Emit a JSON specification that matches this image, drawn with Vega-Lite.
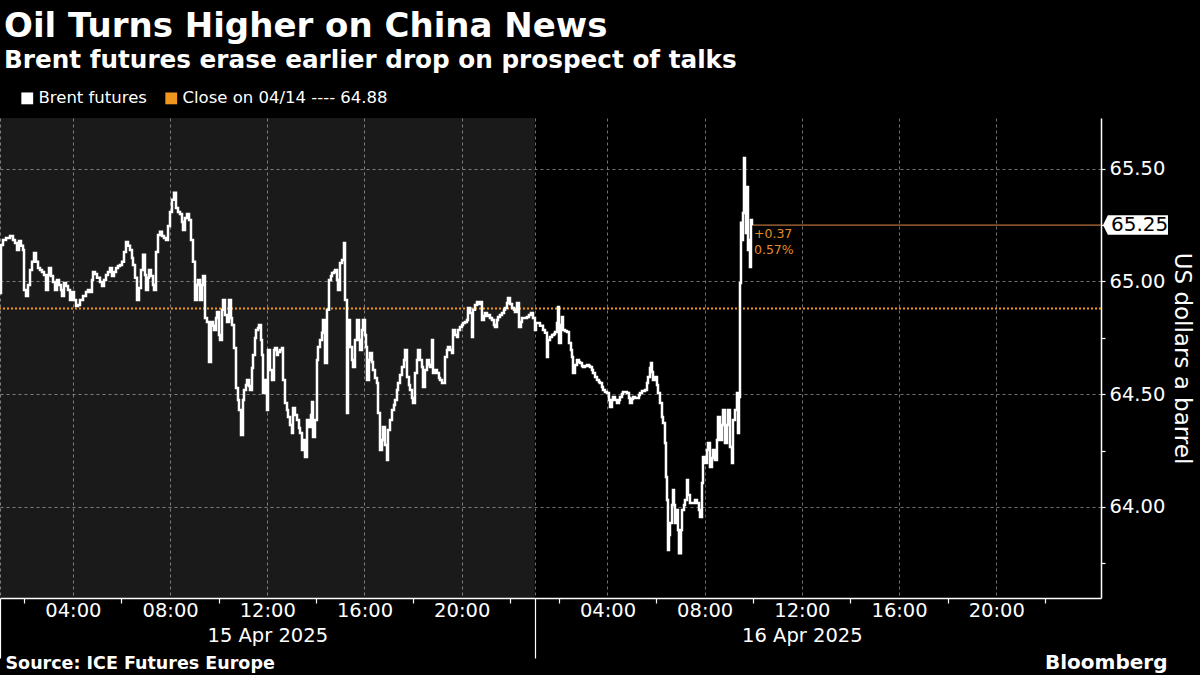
{
  "$schema": "https://vega.github.io/schema/vega-lite/v6.json",
  "width": 1101,
  "height": 480,
  "autosize": "none",
  "padding": {"left": 0, "top": 118, "right": 99, "bottom": 77},
  "background": "#000000",
  "title": {
    "text": "Oil Turns Higher on China News",
    "subtitle": "Brent futures erase earlier drop on prospect of talks",
    "anchor": "start",
    "frame": "group",
    "dx": 4,
    "offset": 17,
    "color": "#ffffff",
    "font": "DejaVu Sans",
    "fontSize": 34,
    "fontWeight": "bold",
    "subtitleColor": "#ffffff",
    "subtitleFont": "DejaVu Sans",
    "subtitleFontSize": 24.7,
    "subtitleFontWeight": "bold",
    "subtitlePadding": 4
  },
  "datasets": {
    "brent": [
      {"t":0,"p":64.949},{"t":0.041,"p":65.162},{"t":0.123,"p":65.184},{"t":0.247,"p":65.193},{"t":0.412,"p":65.202},{"t":0.535,"p":65.184},{"t":0.617,"p":65.171},{"t":0.7,"p":65.14},{"t":0.782,"p":65.18},{"t":0.864,"p":65.158},{"t":0.947,"p":65.14},{"t":0.988,"p":64.962},{"t":1.07,"p":64.936},{"t":1.152,"p":64.984},{"t":1.235,"p":65.051},{"t":1.317,"p":65.087},{"t":1.399,"p":65.126},{"t":1.481,"p":65.087},{"t":1.564,"p":65.06},{"t":1.646,"p":65.051},{"t":1.728,"p":65.042},{"t":1.811,"p":65.029},{"t":1.893,"p":64.962},{"t":1.975,"p":65.029},{"t":2.016,"p":65.06},{"t":2.099,"p":65.024},{"t":2.181,"p":64.998},{"t":2.263,"p":64.962},{"t":2.346,"p":65.007},{"t":2.428,"p":64.984},{"t":2.51,"p":64.962},{"t":2.551,"p":64.936},{"t":2.634,"p":64.993},{"t":2.716,"p":64.98},{"t":2.798,"p":64.962},{"t":2.881,"p":64.918},{"t":2.963,"p":64.953},{"t":3.045,"p":64.918},{"t":3.128,"p":64.891},{"t":3.21,"p":64.896},{"t":3.292,"p":64.918},{"t":3.416,"p":64.936},{"t":3.539,"p":64.953},{"t":3.621,"p":64.962},{"t":3.704,"p":64.953},{"t":3.786,"p":65.007},{"t":3.827,"p":65.042},{"t":3.909,"p":65.033},{"t":3.992,"p":65.016},{"t":4.115,"p":64.998},{"t":4.198,"p":64.98},{"t":4.28,"p":65.007},{"t":4.362,"p":65.029},{"t":4.444,"p":65.042},{"t":4.527,"p":65.06},{"t":4.609,"p":65.024},{"t":4.691,"p":65.042},{"t":4.774,"p":65.06},{"t":4.856,"p":65.069},{"t":4.938,"p":65.073},{"t":5.021,"p":65.087},{"t":5.103,"p":65.131},{"t":5.185,"p":65.175},{"t":5.267,"p":65.158},{"t":5.35,"p":65.14},{"t":5.432,"p":65.104},{"t":5.473,"p":65.073},{"t":5.556,"p":65.016},{"t":5.638,"p":64.918},{"t":5.72,"p":64.971},{"t":5.802,"p":65.051},{"t":5.885,"p":65.118},{"t":5.967,"p":65.029},{"t":6.008,"p":64.962},{"t":6.091,"p":65.016},{"t":6.132,"p":65.051},{"t":6.214,"p":65.024},{"t":6.296,"p":64.984},{"t":6.337,"p":64.962},{"t":6.42,"p":65.131},{"t":6.502,"p":65.206},{"t":6.584,"p":65.22},{"t":6.667,"p":65.202},{"t":6.749,"p":65.193},{"t":6.831,"p":65.184},{"t":6.914,"p":65.246},{"t":6.996,"p":65.308},{"t":7.078,"p":65.362},{"t":7.16,"p":65.393},{"t":7.243,"p":65.326},{"t":7.325,"p":65.308},{"t":7.407,"p":65.299},{"t":7.49,"p":65.264},{"t":7.531,"p":65.228},{"t":7.613,"p":65.282},{"t":7.695,"p":65.299},{"t":7.778,"p":65.273},{"t":7.86,"p":65.184},{"t":7.942,"p":65.087},{"t":8.025,"p":64.918},{"t":8.107,"p":64.984},{"t":8.148,"p":65.007},{"t":8.23,"p":64.918},{"t":8.313,"p":64.984},{"t":8.354,"p":65.024},{"t":8.436,"p":64.838},{"t":8.519,"p":64.82},{"t":8.601,"p":64.643},{"t":8.683,"p":64.82},{"t":8.765,"p":64.803},{"t":8.807,"p":64.785},{"t":8.889,"p":64.838},{"t":8.93,"p":64.865},{"t":9.012,"p":64.763},{"t":9.053,"p":64.74},{"t":9.136,"p":64.874},{"t":9.177,"p":64.918},{"t":9.259,"p":64.851},{"t":9.342,"p":64.82},{"t":9.424,"p":64.918},{"t":9.506,"p":64.838},{"t":9.547,"p":64.807},{"t":9.63,"p":64.705},{"t":9.712,"p":64.527},{"t":9.794,"p":64.474},{"t":9.835,"p":64.43},{"t":9.918,"p":64.319},{"t":10.0,"p":64.474},{"t":10.041,"p":64.519},{"t":10.123,"p":64.541},{"t":10.165,"p":64.563},{"t":10.247,"p":64.536},{"t":10.288,"p":64.519},{"t":10.37,"p":64.616},{"t":10.412,"p":64.674},{"t":10.494,"p":64.749},{"t":10.535,"p":64.785},{"t":10.617,"p":64.794},{"t":10.658,"p":64.807},{"t":10.741,"p":64.74},{"t":10.782,"p":64.674},
      {"t":10.823,"p":64.505},{"t":10.905,"p":64.563},{"t":10.988,"p":64.43},{"t":11.029,"p":64.696},{"t":11.111,"p":64.607},{"t":11.193,"p":64.563},{"t":11.276,"p":64.696},{"t":11.317,"p":64.705},{"t":11.399,"p":64.674},{"t":11.44,"p":64.687},{"t":11.523,"p":64.696},{"t":11.605,"p":64.705},{"t":11.646,"p":64.563},{"t":11.728,"p":64.461},{"t":11.811,"p":64.43},{"t":11.852,"p":64.399},{"t":11.934,"p":64.363},{"t":12.016,"p":64.328},{"t":12.058,"p":64.439},{"t":12.14,"p":64.408},{"t":12.222,"p":64.386},{"t":12.305,"p":64.35},{"t":12.346,"p":64.328},{"t":12.428,"p":64.252},{"t":12.51,"p":64.297},{"t":12.551,"p":64.221},{"t":12.634,"p":64.386},{"t":12.716,"p":64.354},{"t":12.798,"p":64.408},{"t":12.84,"p":64.465},{"t":12.881,"p":64.31},{"t":12.963,"p":64.386},{"t":13.045,"p":64.652},{"t":13.086,"p":64.709},{"t":13.169,"p":64.74},{"t":13.251,"p":64.772},{"t":13.292,"p":64.829},{"t":13.374,"p":64.638},{"t":13.457,"p":64.874},{"t":13.539,"p":65.007},{"t":13.621,"p":65.024},{"t":13.663,"p":65.038},{"t":13.745,"p":65.042},{"t":13.786,"p":65.051},{"t":13.868,"p":65.007},{"t":13.909,"p":64.962},{"t":13.992,"p":65.082},{"t":14.074,"p":65.095},{"t":14.156,"p":65.171},{"t":14.198,"p":64.918},{"t":14.28,"p":64.417},{"t":14.321,"p":64.829},{"t":14.403,"p":64.709},{"t":14.486,"p":64.652},{"t":14.527,"p":64.621},{"t":14.609,"p":64.74},{"t":14.691,"p":64.829},{"t":14.774,"p":64.74},{"t":14.815,"p":64.696},{"t":14.897,"p":64.785},{"t":14.938,"p":64.829},{"t":15.021,"p":64.763},{"t":15.062,"p":64.709},{"t":15.103,"p":64.563},{"t":15.185,"p":64.652},{"t":15.226,"p":64.683},{"t":15.309,"p":64.643},{"t":15.35,"p":64.607},{"t":15.432,"p":64.572},{"t":15.514,"p":64.55},{"t":15.556,"p":64.417},{"t":15.638,"p":64.252},{"t":15.72,"p":64.297},{"t":15.761,"p":64.354},{"t":15.844,"p":64.275},{"t":15.926,"p":64.208},{"t":15.967,"p":64.341},{"t":16.049,"p":64.386},{"t":16.132,"p":64.43},{"t":16.214,"p":64.452},{"t":16.255,"p":64.474},{"t":16.337,"p":64.519},{"t":16.379,"p":64.55},{"t":16.461,"p":64.585},{"t":16.543,"p":64.621},{"t":16.626,"p":64.652},{"t":16.667,"p":64.696},{"t":16.749,"p":64.576},{"t":16.831,"p":64.541},{"t":16.872,"p":64.519},{"t":16.955,"p":64.483},{"t":16.996,"p":64.461},{"t":17.078,"p":64.594},{"t":17.16,"p":64.652},{"t":17.202,"p":64.696},{"t":17.284,"p":64.652},{"t":17.366,"p":64.621},{"t":17.407,"p":64.532},{"t":17.49,"p":64.607},{"t":17.572,"p":64.652},{"t":17.654,"p":64.63},{"t":17.695,"p":64.621},{"t":17.778,"p":64.74},{"t":17.819,"p":64.594},{"t":17.901,"p":64.607},{"t":17.984,"p":64.594},{"t":18.066,"p":64.572},{"t":18.107,"p":64.563},{"t":18.189,"p":64.55},{"t":18.23,"p":64.55},{"t":18.313,"p":64.665},{"t":18.395,"p":64.696},{"t":18.436,"p":64.709},{"t":18.519,"p":64.696},{"t":18.601,"p":64.683},{"t":18.642,"p":64.785},{"t":18.724,"p":64.763},{"t":18.807,"p":64.754},{"t":18.848,"p":64.785},{"t":18.93,"p":64.798},{"t":19.012,"p":64.807},{"t":19.053,"p":64.816},{"t":19.136,"p":64.82},{"t":19.218,"p":64.829},{"t":19.259,"p":64.882},{"t":19.342,"p":64.86},{"t":19.424,"p":64.754},{"t":19.465,"p":64.874},{"t":19.547,"p":64.896},{"t":19.63,"p":64.909},{"t":19.712,"p":64.9},{"t":19.753,"p":64.909},{"t":19.835,"p":64.829},{"t":19.918,"p":64.847},{"t":19.959,"p":64.86},{"t":20.041,"p":64.847},{"t":20.082,"p":64.851},{"t":20.165,"p":64.838},{"t":20.247,"p":64.829},{"t":20.329,"p":64.807},{"t":20.37,"p":64.798},{"t":20.453,"p":64.829},{"t":20.494,"p":64.842},{"t":20.576,"p":64.851},{"t":20.658,"p":64.86},{"t":20.741,"p":64.874},{"t":20.782,"p":64.882},{"t":20.864,"p":64.905},{"t":20.905,"p":64.927},{"t":20.988,"p":64.9},{"t":21.07,"p":64.882},{"t":21.152,"p":64.874},{"t":21.193,"p":64.865},{"t":21.276,"p":64.905},{"t":21.358,"p":64.798},{"t":21.44,"p":64.82},{"t":21.481,"p":64.838},{"t":21.605,"p":64.838},{"t":21.687,"p":64.842},{"t":21.77,"p":64.851},{"t":21.852,"p":64.86},{"t":21.934,"p":64.838},{"t":22.016,"p":64.785},
      {"t":22.058,"p":64.816},{"t":22.14,"p":64.816},{"t":22.222,"p":64.803},{"t":22.346,"p":64.785},{"t":22.428,"p":64.772},{"t":22.51,"p":64.665},{"t":22.551,"p":64.74},{"t":22.634,"p":64.754},{"t":22.716,"p":64.763},{"t":22.798,"p":64.767},{"t":22.84,"p":64.776},{"t":22.922,"p":64.816},{"t":22.963,"p":64.887},{"t":23.004,"p":64.727},{"t":23.086,"p":64.807},{"t":23.128,"p":64.842},{"t":23.169,"p":64.785},{"t":23.251,"p":64.78},{"t":23.333,"p":64.776},{"t":23.416,"p":64.727},{"t":23.498,"p":64.696},{"t":23.539,"p":64.665},{"t":23.58,"p":64.594},{"t":23.663,"p":64.63},{"t":23.745,"p":64.652},{"t":23.827,"p":64.643},{"t":23.868,"p":64.638},{"t":23.951,"p":64.625},{"t":23.992,"p":64.621},{"t":24.074,"p":64.625},{"t":24.156,"p":64.63},{"t":24.239,"p":64.625},{"t":24.28,"p":64.621},{"t":24.362,"p":64.607},{"t":24.403,"p":64.594},{"t":24.486,"p":64.576},{"t":24.568,"p":64.563},{"t":24.65,"p":64.554},{"t":24.691,"p":64.55},{"t":24.774,"p":64.532},{"t":24.815,"p":64.519},{"t":24.897,"p":64.51},{"t":24.979,"p":64.505},{"t":25.062,"p":64.474},{"t":25.103,"p":64.443},{"t":25.185,"p":64.474},{"t":25.226,"p":64.488},{"t":25.309,"p":64.474},{"t":25.391,"p":64.461},{"t":25.473,"p":64.474},{"t":25.514,"p":64.488},{"t":25.597,"p":64.501},{"t":25.638,"p":64.51},{"t":25.72,"p":64.51},{"t":25.802,"p":64.505},{"t":25.885,"p":64.483},{"t":25.926,"p":64.461},{"t":26.008,"p":64.479},{"t":26.049,"p":64.488},{"t":26.132,"p":64.483},{"t":26.214,"p":64.483},{"t":26.296,"p":64.496},{"t":26.337,"p":64.505},{"t":26.42,"p":64.514},{"t":26.543,"p":64.519},{"t":26.626,"p":64.55},{"t":26.667,"p":64.576},{"t":26.749,"p":64.616},{"t":26.79,"p":64.638},{"t":26.831,"p":64.598},{"t":26.872,"p":64.563},{"t":26.955,"p":64.576},{"t":27.037,"p":64.541},{"t":27.078,"p":64.505},{"t":27.16,"p":64.461},{"t":27.243,"p":64.399},{"t":27.284,"p":64.372},{"t":27.366,"p":64.283},{"t":27.407,"p":64.133},{"t":27.449,"p":64.031},{"t":27.49,"p":63.809},{"t":27.531,"p":63.875},{"t":27.572,"p":63.929},{"t":27.654,"p":64.008},{"t":27.695,"p":64.075},{"t":27.737,"p":64.008},{"t":27.778,"p":63.929},{"t":27.86,"p":63.986},{"t":27.901,"p":63.898},{"t":27.942,"p":63.795},{"t":28.025,"p":63.898},{"t":28.066,"p":63.986},{"t":28.148,"p":64.008},{"t":28.189,"p":64.031},{"t":28.272,"p":64.119},{"t":28.313,"p":64.053},{"t":28.395,"p":64.017},{"t":28.477,"p":64.017},{"t":28.519,"p":64.017},{"t":28.601,"p":64.031},{"t":28.683,"p":64.017},{"t":28.765,"p":63.986},{"t":28.807,"p":63.955},{"t":28.889,"p":64.106},{"t":28.93,"p":64.221},{"t":29.012,"p":64.195},{"t":29.095,"p":64.252},{"t":29.136,"p":64.283},{"t":29.218,"p":64.177},{"t":29.3,"p":64.217},{"t":29.342,"p":64.252},{"t":29.424,"p":64.208},{"t":29.506,"p":64.297},{"t":29.547,"p":64.399},{"t":29.63,"p":64.297},{"t":29.712,"p":64.363},{"t":29.753,"p":64.43},{"t":29.835,"p":64.283},{"t":29.918,"p":64.363},{"t":29.959,"p":64.43},{"t":30.041,"p":64.266},{"t":30.123,"p":64.195},{"t":30.165,"p":64.386},{"t":30.247,"p":64.43},{"t":30.329,"p":64.505},{"t":30.37,"p":64.328},{"t":30.412,"p":64.488},{"t":30.453,"p":64.993},{"t":30.494,"p":65.26},{"t":30.535,"p":65.184},{"t":30.576,"p":65.304},{"t":30.617,"p":65.548},{"t":30.658,"p":65.362},{"t":30.7,"p":65.215},{"t":30.741,"p":65.419},{"t":30.782,"p":65.14},{"t":30.823,"p":65.184},{"t":30.864,"p":65.064},{"t":30.905,"p":65.273},{"t":30.947,"p":65.25}
    ],
    "sessions": [{"session": "15 Apr 2025", "start": 0, "end": 22}],
    "close": [{"series": "Close on 04/14 ---- 64.88", "price": 64.88}],
    "last": [{"t": 30.947, "p": 65.25, "label": "65.25", "change": "+0.37", "pct": "0.57%"}]
  },
  "resolve": {"axis": {"x": "independent"}},
  "layer": [
    {
      "data": {"name": "sessions"},
      "mark": {"type": "rect", "fill": "#ffffff", "opacity": 0.1},
      "encoding": {
        "x": {
          "field": "start", "type": "quantitative",
          "scale": {"domain": [0, 45.31], "nice": false, "zero": false},
          "axis": {
            "orient": "bottom", "labels": false, "ticks": false, "domain": false, "grid": false,
            "title": "Bloomberg", "titleX": 1167, "titleY": 70, "titleAlign": "right",
            "titleBaseline": "alphabetic", "titleColor": "#ffffff", "titleFont": "DejaVu Sans",
            "titleFontSize": 20, "titleFontWeight": "bold"
          }
        },
        "x2": {"field": "end"}
      }
    },
    {
      "data": {"name": "close"},
      "mark": {"type": "rule", "strokeDash": [2, 2], "strokeWidth": 2.2},
      "encoding": {
        "y": {"field": "price", "type": "quantitative"},
        "color": {
          "field": "series", "type": "nominal",
          "legend": {
            "orient": "none", "legendX": 19, "legendY": -28, "direction": "horizontal", "title": null,
            "symbolType": "square", "symbolSize": 140, "symbolStrokeWidth": 0,
            "labelColor": "#ffffff", "labelFont": "DejaVu Sans", "labelFontSize": 16.5, "labelLimit": 500,
            "labelOffset": 3, "columnPadding": 16, "padding": 0,
            "encode": {"symbols": {"update": {"fill": {"scale": "color", "field": "value"}, "fillOpacity": {"value": 1}, "opacity": {"value": 1}, "strokeWidth": {"value": 0}, "size": {"value": 140}, "shape": {"value": "square"}}}}
          }
        }
      }
    },
    {
      "data": {"name": "last"},
      "mark": {"type": "rule", "color": "#e08c4a", "strokeWidth": 1},
      "encoding": {
        "x": {"field": "t", "type": "quantitative", "axis": null},
        "x2": {"datum": 45.31},
        "y": {"field": "p", "type": "quantitative"}
      }
    },
    {
      "data": {"name": "brent"},
      "mark": {"type": "line", "strokeWidth": 2.5, "interpolate": "step-after"},
      "encoding": {
        "x": {
          "field": "t", "type": "quantitative",
          "scale": {"domain": [0, 45.31], "nice": false, "zero": false},
          "axis": {
            "orient": "bottom",
            "values": [0, 1, 3, 5, 7, 9, 11, 13, 15, 17, 19, 21, 22, 23, 25, 27, 29, 31, 33, 35, 37, 39, 41, 43],
            "domainColor": "#ffffff", "domainWidth": 1.5,
            "grid": true, "gridColor": "#707070", "gridDash": [3, 3], "gridWidth": 1,
            "gridOpacity": {"condition": {"test": "indexof([0, 3, 7, 11, 15, 19, 22, 25, 29, 33, 37, 41], datum.value) >= 0", "value": 1}, "value": 0},
            "tickColor": "#ffffff", "tickWidth": 1.2,
            "tickSize": {"condition": {"test": "datum.value == 0 || datum.value == 22", "value": 60}, "value": 5},
            "tickOpacity": {"condition": {"test": "indexof([3, 7, 11, 15, 19, 25, 29, 33, 37, 41], datum.value) >= 0", "value": 0}, "value": 1},
            "labelExpr": "datum.value == 3 || datum.value == 25 ? '04:00' : datum.value == 7 || datum.value == 29 ? '08:00' : datum.value == 11 ? ['12:00', '15 Apr 2025'] : datum.value == 33 ? ['12:00', '16 Apr 2025'] : datum.value == 15 || datum.value == 37 ? '16:00' : datum.value == 19 || datum.value == 41 ? '20:00' : ''",
            "labelColor": "#ffffff", "labelFont": "DejaVu Sans", "labelFontSize": 19.5,
            "labelAlign": "center", "labelBaseline": "top", "labelPadding": -2, "labelLineHeight": 25,
            "labelOverlap": false, "labelFlush": false, "labelBound": false,
            "title": "Source: ICE Futures Europe", "titleX": 5, "titleY": 70, "titleAlign": "left",
            "titleBaseline": "alphabetic", "titleColor": "#ffffff", "titleFont": "DejaVu Sans",
            "titleFontSize": 17.5, "titleFontWeight": "bold"
          }
        },
        "y": {
          "field": "p", "type": "quantitative",
          "scale": {"domain": [63.596, 65.725], "nice": false, "zero": false},
          "axis": {
            "orient": "right",
            "values": [63.75, 64, 64.25, 64.5, 64.75, 65, 65.25, 65.5],
            "domainColor": "#ffffff", "domainWidth": 1.5,
            "grid": true, "gridColor": "#707070", "gridDash": [3, 3], "gridWidth": 1,
            "gridOpacity": {"condition": {"test": "abs(datum.value * 2 - round(datum.value * 2)) < 0.01", "value": 1}, "value": 0},
            "tickColor": "#ffffff", "tickSize": 4, "tickWidth": 1.2,
            "labelExpr": "abs(datum.value * 2 - round(datum.value * 2)) < 0.01 ? format(datum.value, '.2f') : ''",
            "labelColor": "#ffffff", "labelFont": "DejaVu Sans", "labelFontSize": 19.5, "labelPadding": 4,
            "title": "US dollars a barrel", "titleColor": "#ffffff", "titleFont": "DejaVu Sans",
            "titleFontSize": 23, "titleFontWeight": "normal", "titleAngle": 90, "titlePadding": 5
          }
        },
        "color": {
          "datum": "Brent futures", "type": "nominal",
          "scale": {"domain": ["Brent futures", "Close on 04/14 ---- 64.88"], "range": ["#ffffff", "#f0961e"]},
          "legend": {
            "orient": "none", "legendX": 19, "legendY": -28, "direction": "horizontal", "title": null,
            "symbolType": "square", "symbolSize": 140, "symbolStrokeWidth": 0,
            "labelColor": "#ffffff", "labelFont": "DejaVu Sans", "labelFontSize": 16.5, "labelLimit": 500,
            "labelOffset": 3, "columnPadding": 16, "padding": 0,
            "encode": {"symbols": {"update": {"fill": {"scale": "color", "field": "value"}, "fillOpacity": {"value": 1}, "opacity": {"value": 1}, "strokeWidth": {"value": 0}, "size": {"value": 140}, "shape": {"value": "square"}}}}
          }
        }
      }
    },
    {
      "data": {"name": "last"},
      "mark": {"type": "text", "align": "left", "baseline": "top", "dx": 2, "dy": 3, "fontSize": 12.5, "font": "DejaVu Sans", "color": "#e08c2a", "lineHeight": 16},
      "encoding": {
        "x": {"field": "t", "type": "quantitative", "axis": null},
        "y": {"field": "p", "type": "quantitative"},
        "text": {"value": ["+0.37", "0.57%"]}
      }
    },
    {
      "data": {"name": "last"},
      "mark": {"type": "point", "shape": "M0,0L0.15,-0.3L2,-0.3L2,0.3L0.15,0.3Z", "filled": true, "color": "#ffffff", "opacity": 1, "size": 4225, "xOffset": 2},
      "encoding": {
        "x": {"datum": 45.31, "type": "quantitative", "axis": null},
        "y": {"field": "p", "type": "quantitative"}
      }
    },
    {
      "data": {"name": "last"},
      "mark": {"type": "text", "align": "left", "baseline": "middle", "dx": 10, "fontSize": 20, "font": "DejaVu Sans", "color": "#000000"},
      "encoding": {
        "x": {"datum": 45.31, "type": "quantitative", "axis": null},
        "y": {"field": "p", "type": "quantitative"},
        "text": {"field": "label"}
      }
    }
  ],
  "config": {
    "view": {"stroke": null},
    "text": {"font": "DejaVu Sans"}
  }
}
